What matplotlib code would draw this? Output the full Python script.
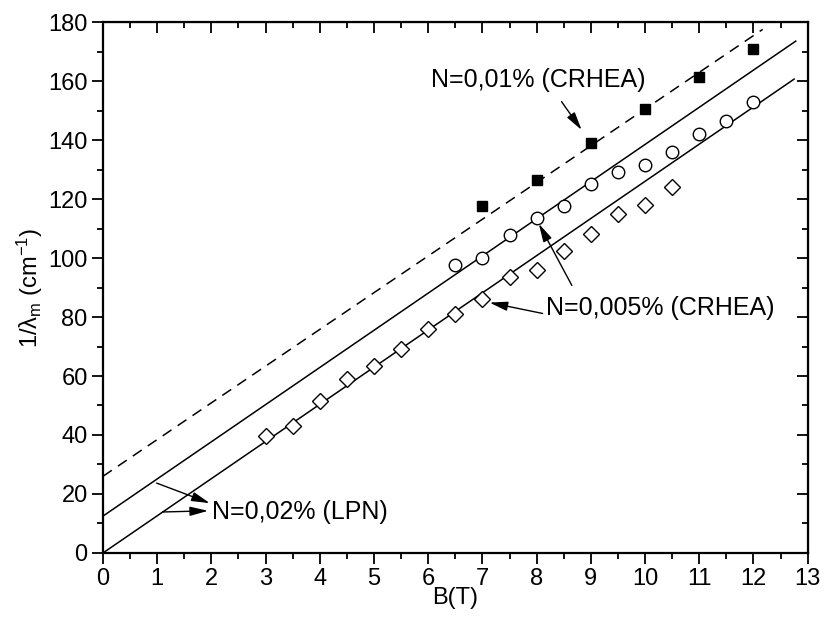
import numpy as np
import matplotlib
matplotlib.use('Agg')
import matplotlib.pyplot as plt
from matplotlib.ticker import MultipleLocator

plt.rcParams['font.family'] = ['Liberation Sans', 'DejaVu Sans']
plt.rcParams['mathtext.fontset'] = 'custom'
plt.rcParams['mathtext.rm'] = 'Liberation Sans'
plt.rcParams['mathtext.it'] = 'Liberation Sans:italic'

# N=0,01% (CRHEA) - filled squares
b_sq = [7, 8, 9, 10, 11, 12]
y_sq = [117.5, 126.5, 139, 150.5, 161.5, 171]

# N=0,005% (CRHEA) - open circles
b_ci = [6.5, 7, 7.5, 8, 8.5, 9, 9.5, 10, 10.5, 11, 11.5, 12]
y_ci = [97.5, 100, 107.8, 113.5, 117.5, 125, 129, 131.5, 136, 142, 146.5, 153]

# N=0,02% (LPN) - open diamonds
b_di = [3, 3.5, 4, 4.5, 5, 5.5, 6, 6.5, 7, 7.5, 8, 8.5, 9, 9.5, 10, 10.5]
y_di = [39.5, 43, 51.5, 59, 63.5, 69, 76, 81, 86, 93.5, 96, 102.5, 108, 115, 118, 124]

# fitted lines: (intercept, slope, x_end)
fit_dash = (26.0, 12.45, 12.17)
fit_mid = (12.5, 12.6, 12.78)
fit_low = (0.0, 12.6, 12.75)

fig = plt.figure(figsize=(8.25, 6.24), dpi=100)
ax = fig.add_axes([0.1248, 0.1138, 0.979 - 0.1248, 0.9647 - 0.1138])

for (a, k, xe), ls in [(fit_dash, (0, (7, 4.8))), (fit_mid, '-'), (fit_low, '-')]:
    xx = np.array([0, xe])
    ax.plot(xx, a + k * xx, color='k', lw=1.1, linestyle=ls)

ax.plot(b_sq, y_sq, 's', color='k', markersize=7.5, zorder=3)
ax.plot(b_ci, y_ci, 'o', mfc='white', mec='k', mew=1.0, markersize=9, zorder=3)
ax.plot(b_di, y_di, 'D', mfc='white', mec='k', mew=1.0, markersize=8, zorder=3)

# arrows pointing from the labels to the curves
arr = dict(arrowstyle='-|>,head_width=0.28,head_length=1.1', color='k', lw=1.0,
           shrinkA=0, shrinkB=0)
fs = 18
ax.text(6.06, 160.3, 'N=0,01% (CRHEA)', fontsize=fs, va='center', ha='left')
ax.annotate('', xy=(8.83, 143.4), xytext=(8.46, 153), arrowprops=arr)

ax.text(8.18, 82.9, 'N=0,005% (CRHEA)', fontsize=fs, va='center', ha='left')
ax.annotate('', xy=(7.13, 84.9), xytext=(8.11, 81.2), arrowprops=arr)
ax.annotate('', xy=(8.04, 111.6), xytext=(8.65, 90.7), arrowprops=arr)

ax.text(2.01, 13.9, 'N=0,02% (LPN)', fontsize=fs, va='center', ha='left')
ax.annotate('', xy=(1.97, 16.9), xytext=(0.99, 23.7), arrowprops=arr)
ax.annotate('', xy=(1.94, 14.3), xytext=(1.1, 13.9), arrowprops=arr)

ax.set_xlim(0, 13)
ax.set_ylim(0, 180)
ax.xaxis.set_major_locator(MultipleLocator(1))
ax.xaxis.set_minor_locator(MultipleLocator(0.5))
ax.yaxis.set_major_locator(MultipleLocator(20))
ax.yaxis.set_minor_locator(MultipleLocator(10))

ax.tick_params(which='both', direction='out', width=1.3, labelsize=17, pad=3)
ax.tick_params(which='major', length=8)
ax.tick_params(which='minor', length=4)
for s in ax.spines.values():
    s.set_linewidth(1.6)

# mirrored inward ticks on top and right
axt = ax.secondary_xaxis('top')
axt.xaxis.set_major_locator(MultipleLocator(1))
axt.xaxis.set_minor_locator(MultipleLocator(0.5))
axt.tick_params(which='both', direction='in', width=1.3, labeltop=False)
axt.tick_params(which='major', length=8)
axt.tick_params(which='minor', length=4)
axr = ax.secondary_yaxis('right')
axr.yaxis.set_major_locator(MultipleLocator(20))
axr.yaxis.set_minor_locator(MultipleLocator(10))
axr.tick_params(which='both', direction='in', width=1.3, labelright=False)
axr.tick_params(which='major', length=8)
axr.tick_params(which='minor', length=4)

ax.set_xlabel('B(T)', fontsize=17, labelpad=-2)
ax.set_ylabel('1/λ$_\\mathrm{m}$ (cm$^{-1}$)', fontsize=17, labelpad=2)

fig.savefig('out.png', dpi=100)
